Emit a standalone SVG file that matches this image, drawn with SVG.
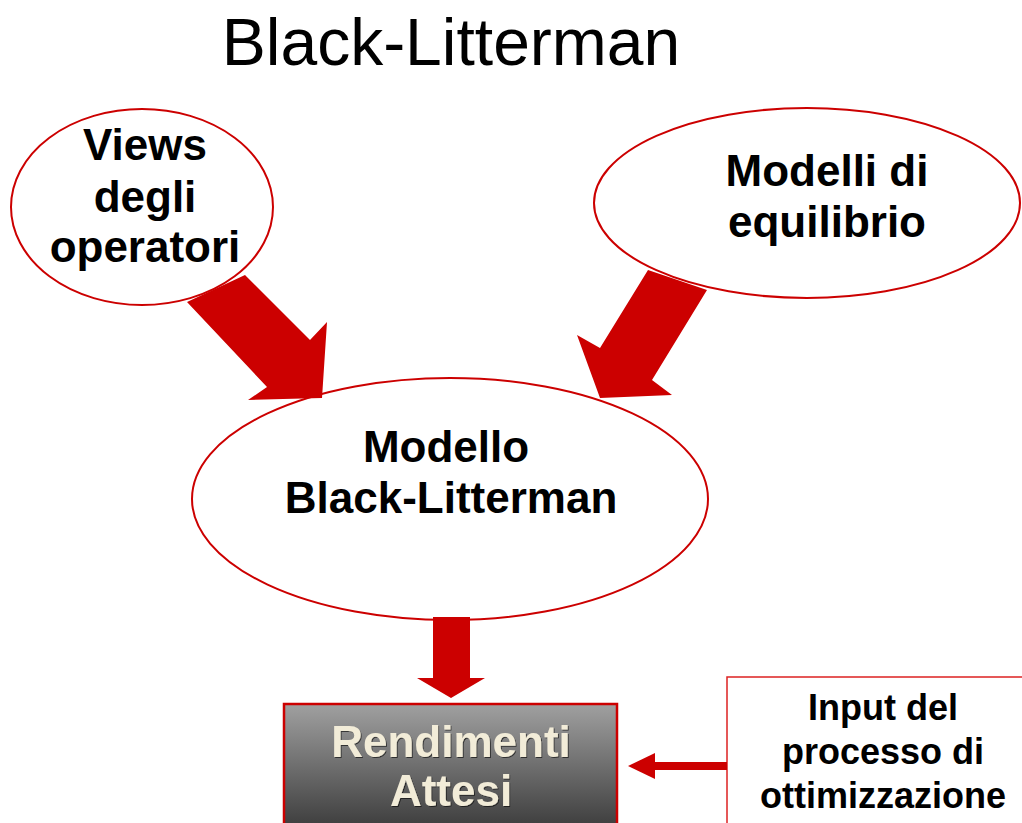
<svg xmlns="http://www.w3.org/2000/svg" width="1022" height="823" viewBox="0 0 1022 823">
<defs>
<linearGradient id="g" x1="0" y1="0" x2="0" y2="1">
<stop offset="0" stop-color="#a0a0a0"/>
<stop offset="1" stop-color="#383838"/>
</linearGradient>
<filter id="sh" x="-10%" y="-10%" width="120%" height="130%">
<feDropShadow dx="1" dy="1" stdDeviation="0.6" flood-color="#000" flood-opacity="0.6"/>
</filter>
</defs>
<style>
.el{fill:#fff;stroke:#cc0000;stroke-width:2}
.t{font-family:"Liberation Sans",Arial,sans-serif;font-weight:bold;font-size:44px;fill:#000;text-anchor:middle}
.arr{fill:#cc0000}
</style>
<rect width="1022" height="823" fill="#fff"/>
<text x="451" y="65" style="font-family:'Liberation Sans',Arial,sans-serif;font-size:66px;fill:#000" text-anchor="middle">Black-Litterman</text>

<g id="views">
<ellipse class="el" cx="142" cy="207" rx="131" ry="98"/>
<text class="t" x="145" y="160">Views</text>
<text class="t" x="145" y="212">degli</text>
<text class="t" x="145" y="262">operatori</text>
</g>
<g id="equilibrio">
<ellipse class="el" cx="807" cy="203" rx="213" ry="95"/>
<text class="t" x="827" y="186">Modelli di</text>
<text class="t" x="827" y="237">equilibrio</text>
</g>
<g id="bl">
<ellipse class="el" cx="450" cy="499" rx="258" ry="121"/>
<text class="t" x="446" y="462">Modello</text>
<text class="t" x="451" y="513">Black-Litterman</text>
</g>
<g id="rendimenti">
<rect x="284" y="704" width="333" height="130" fill="url(#g)" stroke="#cc0000" stroke-width="2.5"/>
<text class="t" x="451" y="757" style="fill:#f2ecd8" filter="url(#sh)">Rendimenti</text>
<text class="t" x="451" y="806" style="fill:#f2ecd8" filter="url(#sh)">Attesi</text>
</g>
<g id="input">
<rect x="727" y="677" width="305" height="160" fill="#fff" stroke="#dd2222" stroke-width="1.5"/>
<text class="t" x="883" y="720" style="font-size:36px">Input del</text>
<text class="t" x="883" y="764" style="font-size:36px">processo di</text>
<text class="t" x="883" y="808" style="font-size:36px">ottimizzazione</text>
</g>
<g id="connectors">
<polygon class="arr" points="245,275 310,340 327,322 322,398 248,400 267,387 187,302"/>
<polygon class="arr" points="648,270 707,290 652,380 672,395 600,398 577,335 600,348"/>
<polygon class="arr" points="433,617 470,617 470,678 485,678 451,698 417,678 433,678"/>
<rect class="arr" x="652" y="762" width="75" height="8"/>
<polygon class="arr" points="628,766 655,753 655,779"/>
</g>
</svg>
